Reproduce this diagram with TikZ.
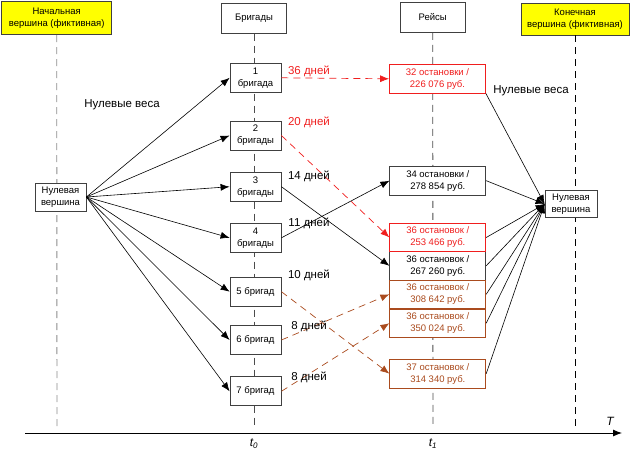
\documentclass[tikz,border=0pt]{standalone}
\usepackage{fontspec}
\setmainfont{Liberation Sans}
\usepackage{tikz}
\usetikzlibrary{arrows.meta}
\definecolor{visred}{RGB}{240,30,30}
\definecolor{visbrown}{RGB}{170,75,30}
\definecolor{visyellow}{RGB}{255,255,0}
\tikzset{
    >={Latex[length=9pt,width=7pt]},
    box/.style={draw=black!75, fill=white, line width=0.8pt, inner sep=0pt,
        align=center, font=\fontsize{9.5}{12}\selectfont},
    brig/.style={box, minimum width=51pt, minimum height=29pt},
    trip/.style={box, minimum width=96pt, minimum height=28.6pt},
    head/.style={box, minimum height=30pt},
    fict/.style={head, fill=visyellow},
    weight/.style={font=\fontsize{11.5}{13}\selectfont, inner sep=0pt},
    timeline/.style={dash pattern=on 7pt off 5pt, line width=0.9pt},
    zero/.style={->, line width=0.6pt},
    redtrip/.style={dash pattern=on 7pt off 5pt, line width=0.7pt, visred, ->},
    browntrip/.style={dash pattern=on 7pt off 5pt, line width=0.7pt, visbrown, ->}}

\begin{document}
\begin{tikzpicture}[x=1pt, y=-1pt]

    \useasboundingbox (0,0) rectangle (642,452);

    % column headers
    \node[fict, minimum width=110pt, minimum height=33pt] (Start) at (56.7,18.3) {Начальная\\вершина (фиктивная)};
    \node[head, minimum width=65pt] (Brig) at (254,18.3) {Бригады};
    \node[head, minimum width=65pt] (Reis) at (432.7,17.5) {Рейсы};
    \node[fict, minimum width=108pt, minimum height=32pt] (Fin) at (575,19) {Конечная\\вершина (фиктивная)};

    % time lines
    \coordinate (sEnd) at (57,426);
    \coordinate (tZero) at (254,426);
    \coordinate (tOne) at (433,426);
    \coordinate (fEnd) at (575,426);
    \draw[timeline, black!45] (Start.south) -- (sEnd);
    \draw[timeline, black!70] (Brig.south) -- (tZero);
    \draw[timeline, black!70] (Reis.south) -- (tOne);
    \draw[timeline, black] (Fin.south) -- (fEnd);

    % axis
    \coordinate (axL) at (25,433);
    \coordinate (axR) at (622,433);
    \draw[->, line width=0.9pt] (axL) -- (axR);
    \node[weight, font=\fontsize{12}{14}\selectfont\itshape] (axT) at (610,421) {T};
    \node[weight, font=\fontsize{12}{14}\selectfont\itshape] (lt0) at (254,444) {t\textsubscript{0}};
    \node[weight, font=\fontsize{12}{14}\selectfont\itshape] (lt1) at (433,444) {t\textsubscript{1}};

    % vertices
    \node[box, minimum width=51pt, minimum height=28pt] (N0) at (60.5,197) {Нулевая\\вершина};
    \node[box, minimum width=52pt, minimum height=27pt] (N1) at (571,204) {Нулевая\\вершина};

    \node[brig] (B1) at (255.5,77.8) {1\\бригада};
    \node[brig] (B2) at (255.5,135.5) {2\\бригады};
    \node[brig] (B3) at (255.5,186.7) {3\\бригады};
    \node[brig] (B4) at (255.5,237.8) {4\\бригады};
    \node[brig] (B5) at (255.5,291.7) {5 бригад};
    \node[brig] (B6) at (255.5,340) {6 бригад};
    \node[brig] (B7) at (255.5,391.3) {7 бригад};

    \node[trip, draw=visred, text=visred] (R1) at (437.5,78.8) {32 остановки /\\226 076 руб.};
    \node[trip] (R2) at (437.8,180.7) {34 остановки /\\278 854 руб.};
    \node[trip] (R4) at (437.8,265.8) {36 остановок /\\267 260 руб.};
    \node[trip, draw=visred, text=visred] (R3) at (437.8,237.5) {36 остановок /\\253 466 руб.};
    \node[trip, draw=visbrown, text=visbrown] (R5) at (437.8,294.3) {36 остановок /\\308 642 руб.};
    \node[trip, draw=visbrown, text=visbrown] (R6) at (437.8,323.2) {36 остановок /\\350 024 руб.};
    \node[trip, draw=visbrown, text=visbrown] (R7) at (437.8,373.7) {37 остановок /\\314 340 руб.};

    % zero weights
    \node[weight] (zL) at (122,105) {Нулевые веса};
    \node[weight] (zR) at (531,91) {Нулевые веса};

    \draw[zero] (N0.east) -- (B1.west);
    \draw[zero] (N0.east) -- (B2.west);
    \draw[zero] (N0.east) -- (B3.west);
    \draw[zero] (N0.east) -- (B4.west);
    \draw[zero] (N0.east) -- (B5.west);
    \draw[zero] (N0.east) -- (B6.west);
    \draw[zero] (N0.east) -- (B7.west);

    \draw[zero] (R1.south east) -- (N1.west);
    \draw[zero] (R2.east) -- (N1.west);
    \draw[zero] (R3.east) -- (N1.west);
    \draw[zero] (R4.east) -- (N1.west);
    \draw[zero] (R5.east) -- (N1.west);
    \draw[zero] (R6.east) -- (N1.west);
    \draw[zero] (R7.east) -- (N1.west);

    % trips
    \draw[redtrip] (B1.east) -- (R1.west);
    \draw[redtrip] (B2.east) -- (R3.west);
    \draw[zero] (B3.east) -- (R4.west);
    \draw[zero] (B4.east) -- (R2.west);
    \draw[browntrip] (B5.east) -- (R7.west);
    \draw[browntrip] (B6.east) -- (R5.west);
    \draw[browntrip] (B7.east) -- (R6.west);

    \node[weight, text=visred] (d1) at (309,71) {36 дней};
    \node[weight, text=visred] (d2) at (309,122) {20 дней};
    \node[weight] (d3) at (309,176) {14 дней};
    \node[weight] (d4) at (309,223) {11 дней};
    \node[weight] (d5) at (309,275) {10 дней};
    \node[weight] (d6) at (309,326) {8 дней};
    \node[weight] (d7) at (309,377) {8 дней};

\end{tikzpicture}
\end{document}
